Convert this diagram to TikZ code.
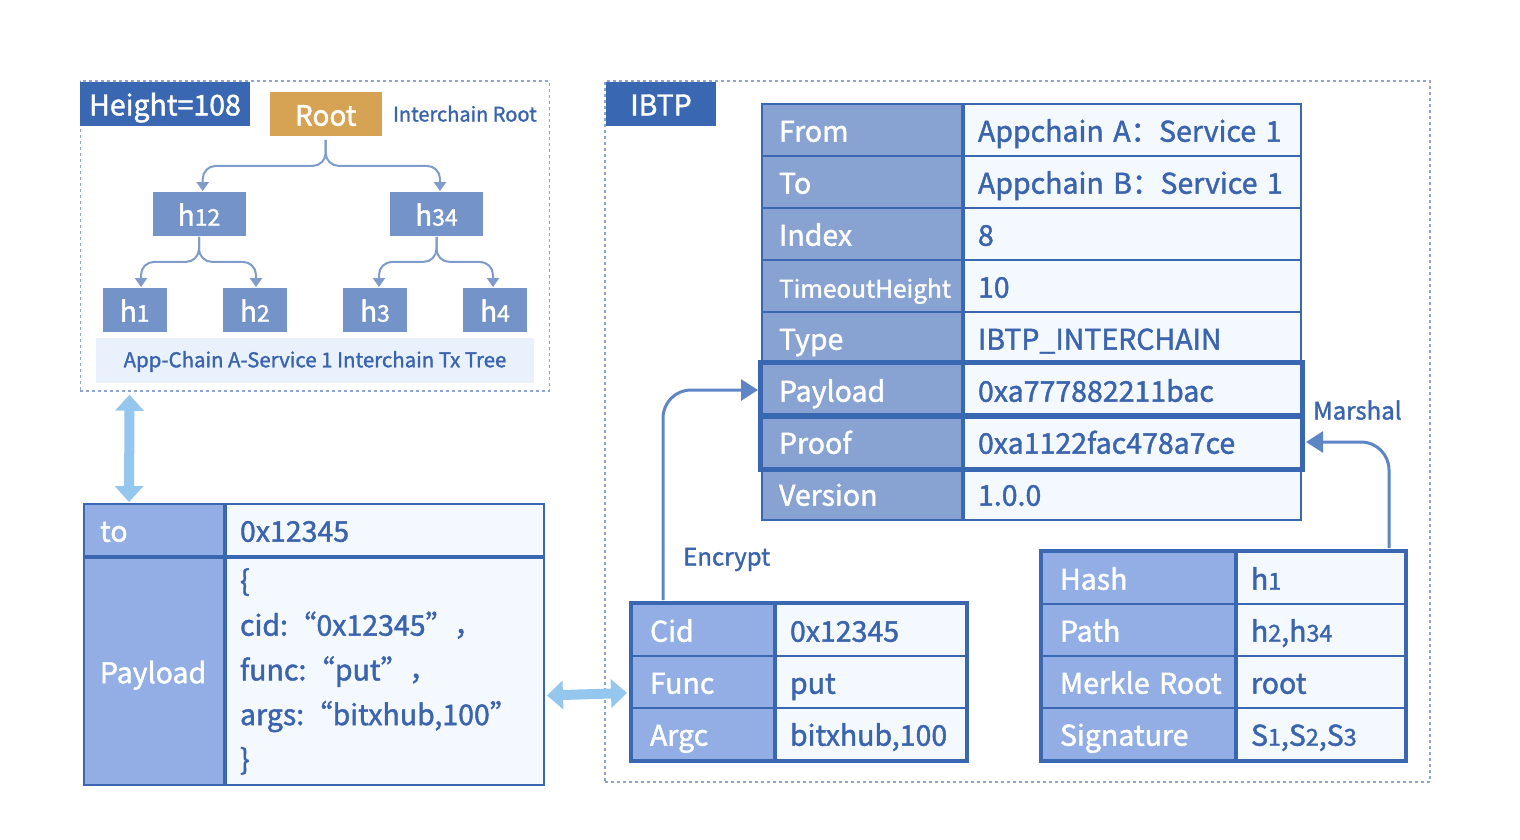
\documentclass[tikz,border=0pt]{standalone}
\usepackage{fontspec}
\setmainfont{Noto Sans CJK SC}[FakeBold=1.5]
\usetikzlibrary{arrows.meta,calc,positioning}

\definecolor{ibtpblue}{HTML}{3A67B1}
\definecolor{textblue}{HTML}{3B64AE}
\definecolor{nodeblue}{HTML}{7493C8}
\definecolor{rootgold}{HTML}{D6A354}
\definecolor{framedash}{HTML}{8CA5D2}
\definecolor{keyfill}{HTML}{88A3D1}
\definecolor{keylight}{HTML}{92AEE4}
\definecolor{valfill}{HTML}{F4F8FF}
\definecolor{bandfill}{HTML}{E9F1FC}
\definecolor{linkblue}{HTML}{94C6EE}
\definecolor{branchblue}{HTML}{7F9BCB}
\definecolor{flowblue}{HTML}{5F86C4}

\newcommand{\dg}[1]{{\addfontfeature{Scale=0.82}#1}}

\tikzset{
  oneline/.style={text height=23.4pt, text depth=0pt},
  cellbase/.style={draw=ibtpblue, line width=2pt, minimum height=52pt, align=left,
    inner ysep=0pt, font=\fontsize{28.5}{32}\selectfont},
  ibtpkey/.style={cellbase, oneline, fill=keyfill, text=white, inner xsep=17pt, text width=166pt},
  ibtpval/.style={cellbase, oneline, fill=valfill, text=textblue, inner xsep=14pt, text width=309pt},
  lowkey/.style={cellbase, oneline, fill=keylight, text=white},
  lowval/.style={cellbase, oneline, fill=valfill, text=textblue},
  thickframe/.style={draw=ibtpblue, line width=4pt},
  dashframe/.style={draw=framedash, line width=1.5pt, dash pattern=on 3pt off 3pt},
  tag/.style={fill=ibtpblue, text=white, oneline, font=\fontsize{28.5}{32}\selectfont, minimum height=44pt},
  hashnode/.style={fill=nodeblue, text=white, oneline, font=\fontsize{28}{32}\selectfont, minimum height=43.4pt, inner sep=0pt},
  note/.style={text=textblue, font=\fontsize{24}{28}\selectfont, inner sep=0pt, text height=17pt, text depth=0pt},
  branch/.style={draw=branchblue, line width=2pt, rounded corners=13pt, -{Triangle[width=12pt,length=9pt]}},
  link/.style={draw=linkblue, line width=10pt, {Triangle[width=28pt,length=16pt]}-{Triangle[width=28pt,length=16pt]}},
  flow/.style={draw=flowblue, line width=3pt, rounded corners=28pt, -{Triangle[width=21pt,length=17pt]}}
}

\begin{document}
\begin{tikzpicture}[x=1pt, y=-1pt]
  \useasboundingbox (0,0) rectangle (1520,840);

  % interchain tx tree
  \node[dashframe, minimum width=469pt, minimum height=310pt] (treeframe) at (314.8,236) {};
  \node[tag, minimum width=170pt] (heighttag) at (165,103.7) {Height=108};
  \node[hashnode, fill=rootgold, minimum width=112pt] (root) at (325.7,114) {Root};
  \node[note, font=\fontsize{20}{24}\selectfont, text height=15pt, right=11pt of root] (rootnote) {Interchain Root};
  \node[hashnode, minimum width=93pt] (h12) at (199,214) {h\dg{12}};
  \node[hashnode, minimum width=93pt] (h34) at (436.5,214) {h\dg{34}};
  \node[hashnode, minimum width=64pt] (h1) at (134.7,310) {h\dg{1}};
  \node[hashnode, minimum width=64pt] (h2) at (254.8,310) {h\dg{2}};
  \node[hashnode, minimum width=64pt] (h3) at (375,310) {h\dg{3}};
  \node[hashnode, minimum width=64pt] (h4) at (495,310) {h\dg{4}};
  \node[fill=bandfill, text=textblue, minimum width=438pt, minimum height=45.6pt,
    font=\fontsize{20.4}{24}\selectfont, text height=13.6pt, text depth=0pt] (treeband)
    at (315,360.5) {App-Chain A-Service 1 Interchain Tx Tree};
  \draw[branch] ($(root.south)+(0,4)$) -- ++(0,26) -| ($(h12.north)+(3.7,-1)$);
  \draw[branch] ($(root.south)+(0,4)$) -- ++(0,26) -| ($(h34.north)+(3.5,-1)$);
  \draw[branch] ($(h12.south)+(0,1)$) -- ++(0,25) -| ($(h1.north)+(6.3,-1)$);
  \draw[branch] ($(h12.south)+(0,1)$) -- ++(0,25) -| ($(h2.north)+(1.2,-1)$);
  \draw[branch] ($(h34.south)+(0,1)$) -- ++(0,25) -| ($(h3.north)+(4,-1)$);
  \draw[branch] ($(h34.south)+(0,1)$) -- ++(0,25) -| ($(h4.north)+(-2,-1)$);

  % transaction
  \node[lowkey, inner xsep=16pt, text width=108pt] (kto) at (154,530) {to};
  \node[lowval, inner xsep=14pt, text width=290pt, right=0pt of kto] (vto) {0x12345};
  \node[lowkey, inner xsep=16pt, text width=108pt, minimum height=227pt, below=0pt of kto] (kpay) {Payload};
  \node[cellbase, fill=valfill, text=textblue, inner xsep=14pt, text width=290pt,
    minimum height=227pt, font=\fontsize{28.5}{44.7}\selectfont, right=0pt of kpay] (vpay)
    {\{\\cid:“0x12345”，\\func:“put”，\\args:“bitxhub,100”\\\}};
  \draw[link] ($(treeframe.south west)+(50,3)$) -- ($(kto.north west)+(46,-1)$);

  % ibtp
  \node[dashframe, minimum width=825pt, minimum height=701pt] (ibtpframe) at (1017.5,431.5) {};
  \node[tag, minimum width=110pt] (ibtptag) at (661,103.7) {IBTP};
  \foreach \name/\key/\val [count=\i from 0] in {from/From/{Appchain A：Service 1},
      to/To/{Appchain B：Service 1}, index/Index/8,
      timeout/{\fontsize{24.4}{28}\selectfont TimeoutHeight}/10, type/Type/IBTP\_INTERCHAIN,
      payload/Payload/0xa777882211bac, proof/Proof/0xa1122fac478a7ce, version/Version/1.0.0}
  {
    \node[ibtpkey] (k\name) at (862,130+52*\i) {\key};
    \node[ibtpval, right=0pt of k\name] (v\name) {\val};
  }
  \draw[thickframe] ($(kpayload.north west)+(-1,-1)$) rectangle ($(vpayload.south east)+(1,-2)$);
  \draw[thickframe] ($(kproof.north west)+(-1,2)$) rectangle ($(vproof.south east)+(1,1)$);
  \node[note, anchor=west] (marshal) at (1313,411) {Marshal};

  % payload content
  \foreach \name/\key/\val [count=\i from 0] in {cid/Cid/0x12345, func/Func/put, argc/Argc/{bitxhub,100}}
  {
    \node[lowkey, inner xsep=18pt, text width=106pt] (k\name) at (703,630+52*\i) {\key};
    \node[lowval, inner xsep=14pt, text width=162pt, right=0pt of k\name] (v\name) {\val};
  }
  \draw[thickframe] (kcid.north west) rectangle (vargc.south east);
  \draw[link] ($(vpay.east)+(2,24)$) -- ($(kfunc.west)+(-4,11)$);
  \draw[flow] ($(kcid.north west)+(32,-3)$) |- ($(kpayload.west)+(-3,0)$);
  \node[note, anchor=west] (encrypt) at (683,557) {Encrypt};

  % proof content
  \foreach \name/\key/\val [count=\i from 0] in {hash/Hash/h\dg{1}, path/Path/{h\dg{2},h\dg{34}},
      merkle/Merkle~Root/root, sign/Signature/{S\dg{1},S\dg{2},S\dg{3}}}
  {
    \node[lowkey, inner xsep=18pt, text width=157pt] (k\name) at (1138.5,578+52*\i) {\key};
    \node[lowval, inner xsep=14pt, text width=140pt, right=0pt of k\name] (v\name) {\val};
  }
  \draw[thickframe] (khash.north west) rectangle (vsign.south east);
  \draw[flow] ($(vhash.north east)+(-17,-3)$) |- ($(vproof.east)+(4,0)$);
\end{tikzpicture}
\end{document}
